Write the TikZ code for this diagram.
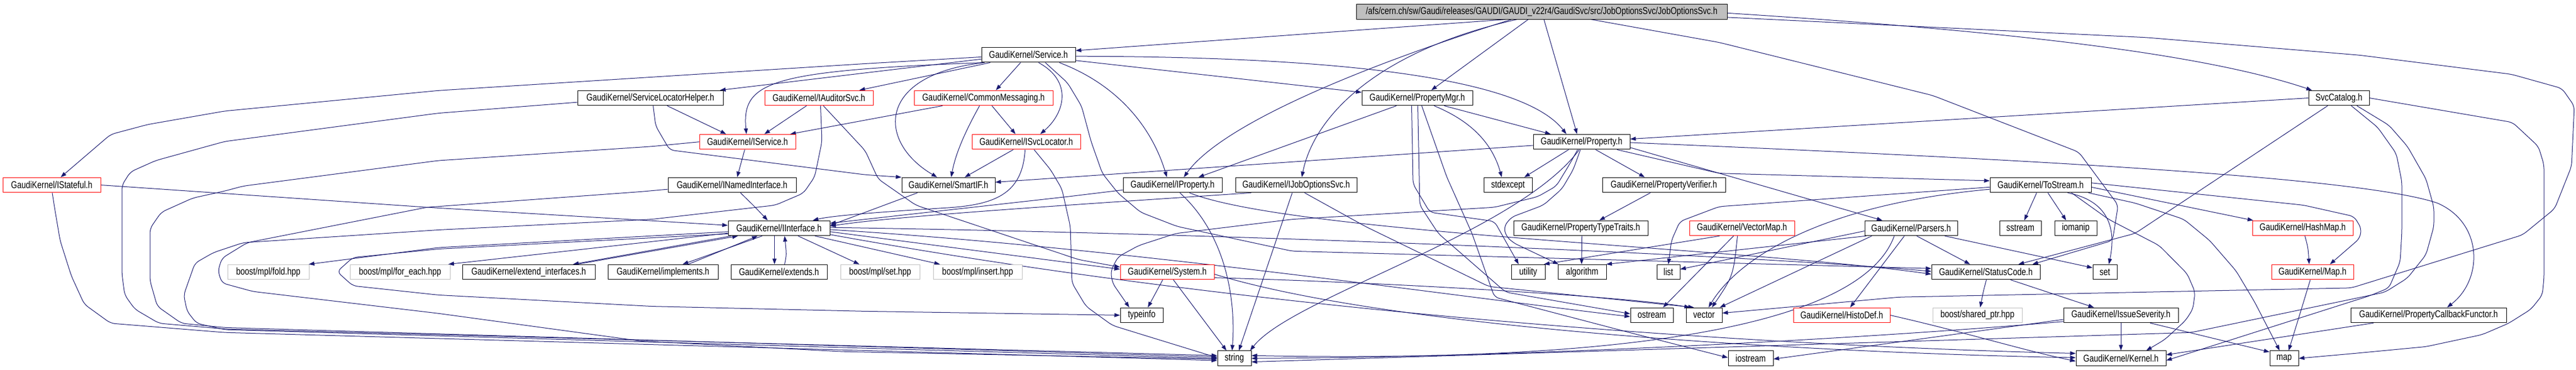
\documentclass[tikz,border=0pt]{standalone}
\usepackage{fontspec}
\setmainfont{Liberation Sans}
\usetikzlibrary{arrows.meta}
\definecolor{edgeblue}{RGB}{25,25,112}
\definecolor{boxgray}{RGB}{191,191,191}
\newcommand\nodefont{\fontsize{14pt}{16pt}\selectfont}
\pgfdeclarelayer{edgelayer}
\pgfsetlayers{edgelayer,main}
\tikzset{
 bx/.style={draw=black, line width=1pt, fill=white, inner sep=0pt, minimum height=21pt, font=\nodefont, transform shape},
 bxr/.style={bx, draw=red},
 bxg/.style={bx, draw=boxgray},
 bxroot/.style={bx, fill=boxgray},
 lnk/.style={draw=edgeblue, line width=1pt, -{Triangle[length=10pt,width=7pt]}},
 lnkc/.style={lnk, rounded corners=8pt},
}
\begin{document}
\begin{tikzpicture}[x=1pt,y=-1pt,yscale=1.26]
\useasboundingbox (0,0) rectangle (4585,523);
% row 0
\node[bxroot, minimum width=660pt] (root) at (2744,16.5) {/afs/cern.ch/sw/Gaudi/releases/GAUDI/GAUDI\_v22r4/GaudiSvc/src/JobOptionsSvc/JobOptionsSvc.h};
% row 1
\node[bx, minimum width=167pt] (Svc) at (1830.5,77.5) {GaudiKernel/Service.h};
% row 2
\node[bx, minimum width=259pt] (SLH) at (1157.5,138.5) {GaudiKernel/ServiceLocatorHelper.h};
\node[bxr, minimum width=193pt] (IAud) at (1457.5,138.5) {GaudiKernel/IAuditorSvc.h};
\node[bxr, minimum width=247pt] (CM) at (1750.5,138.5) {GaudiKernel/CommonMessaging.h};
\node[bx, minimum width=197pt] (PM) at (2522.5,138.5) {GaudiKernel/PropertyMgr.h};
\node[bx, minimum width=108pt] (SCat) at (4163,138.5) {SvcCatalog.h};
% row 3
\node[bxr, minimum width=171pt] (ISrv) at (1330.5,200.5) {GaudiKernel/IService.h};
\node[bxr, minimum width=193pt] (ISL) at (1826.5,200.5) {GaudiKernel/ISvcLocator.h};
\node[bx, minimum width=172pt] (Prop) at (2815,200.5) {GaudiKernel/Property.h};
% row 4
\node[bxr, minimum width=174pt] (IStf) at (92,261.5) {GaudiKernel/IStateful.h};
\node[bx, minimum width=228pt] (INI) at (1303,261.5) {GaudiKernel/INamedInterface.h};
\node[bx, minimum width=166pt] (SIF) at (1688,261.5) {GaudiKernel/SmartIF.h};
\node[bx, minimum width=176pt] (IP) at (2087,261.5) {GaudiKernel/IProperty.h};
\node[bx, minimum width=216pt] (IJ) at (2307,261.5) {GaudiKernel/IJobOptionsSvc.h};
\node[bx, minimum width=86pt] (stdx) at (2684,261.5) {stdexcept};
\node[bx, minimum width=219pt] (PV) at (2961.5,261.5) {GaudiKernel/PropertyVerifier.h};
\node[bx, minimum width=180pt] (TS) at (3632,261.5) {GaudiKernel/ToStream.h};
% row 5
\node[bx, minimum width=181pt] (II) at (1386.5,322.5) {GaudiKernel/IInterface.h};
\node[bx, minimum width=239pt] (PTT) at (2813.5,322.5) {GaudiKernel/PropertyTypeTraits.h};
\node[bxr, minimum width=187pt] (VM) at (3100.5,322.5) {GaudiKernel/VectorMap.h};
\node[bx, minimum width=165pt] (Pars) at (3401.5,322.5) {GaudiKernel/Parsers.h};
\node[bx, minimum width=74pt] (sstr) at (3596,322.5) {sstream};
\node[bx, minimum width=75pt] (ioman) at (3694.5,322.5) {iomanip};
\node[bxr, minimum width=179pt] (HM) at (4098.5,322.5) {GaudiKernel/HashMap.h};
% row 6
\node[bxg, minimum width=145pt] (fold) at (477.5,384.5) {boost/mpl/fold.hpp};
\node[bxg, minimum width=178pt] (fe) at (712,384.5) {boost/mpl/for\_each.hpp};
\node[bx, minimum width=236pt] (EI) at (941,384.5) {GaudiKernel/extend\_interfaces.h};
\node[bx, minimum width=196pt] (IMP) at (1180,384.5) {GaudiKernel/implements.h};
\node[bx, minimum width=171pt] (EXT) at (1386.5,384.5) {GaudiKernel/extends.h};
\node[bxg, minimum width=141pt] (mset) at (1566.5,384.5) {boost/mpl/set.hpp};
\node[bxg, minimum width=158pt] (mins) at (1740,384.5) {boost/mpl/insert.hpp};
\node[bxr, minimum width=167pt] (Sys) at (2077.5,384.5) {GaudiKernel/System.h};
\node[bx, minimum width=60pt] (util) at (2720,384.5) {utility};
\node[bx, minimum width=86pt] (algo) at (2816,384.5) {algorithm};
\node[bx, minimum width=41pt] (lst) at (2969.5,384.5) {list};
\node[bx, minimum width=193pt] (SC) at (3534.5,384.5) {GaudiKernel/StatusCode.h};
\node[bx, minimum width=43pt] (sset) at (3746.5,384.5) {set};
\node[bxr, minimum width=146pt] (Map) at (4116,384.5) {GaudiKernel/Map.h};
% row 7
\node[bx, minimum width=76pt] (tinfo) at (2032,445.5) {typeinfo};
\node[bx, minimum width=76pt] (ostr) at (2940,445.5) {ostream};
\node[bx, minimum width=64pt] (vec) at (3033,445.5) {vector};
\node[bxr, minimum width=172pt] (HD) at (3278,445.5) {GaudiKernel/HistoDef.h};
\node[bxg, minimum width=159pt] (sptr) at (3519.5,445.5) {boost/shared\_ptr.hpp};
\node[bx, minimum width=204pt] (ISev) at (3775,445.5) {GaudiKernel/IssueSeverity.h};
\node[bx, minimum width=277pt] (PCF) at (4322.5,445.5) {GaudiKernel/PropertyCallbackFunctor.h};
% row 8
\node[bx, minimum width=60pt] (str) at (2197,506.5) {string};
\node[bx, minimum width=80pt] (iostr) at (3116,506.5) {iostream};
\node[bx, minimum width=160pt] (Kern) at (3775,506.5) {GaudiKernel/Kernel.h};
\node[bx, minimum width=51pt] (cmap) at (4065.5,506.5) {map};

\begin{pgfonlayer}{edgelayer}
% root
\draw[lnk] ([xshift=-64pt]root.south) -- ([yshift=6pt]Svc.east);
\draw[lnk] ([xshift=-54pt]root.south) .. controls (2400,100) and (2170,180) .. ([xshift=20pt]IP.north);
\draw[lnk] ([xshift=-44pt]root.south) .. controls (2460,70) and (2340,160) .. ([xshift=10pt]IJ.north);
\draw[lnk] ([xshift=-24pt]root.south) -- ([xshift=25pt]PM.north);
\draw[lnk] ([xshift=4pt]root.south) -- ([xshift=-8pt]Prop.north);
\draw[lnkc] ([xshift=88pt]root.south) -- (3060,60) -- (3440,135) -- (3700,215) -- (3770,290) -- (3760,340) -- ([xshift=83pt]SC.north);
\draw[lnk] ([yshift=-2pt]root.east) .. controls (3500,40) and (3900,70) .. ([xshift=-48pt]SCat.north);
\draw[lnkc] ([yshift=-8pt]root.east) -- (3820,53) -- (4200,78) -- (4470,105) -- (4560,125) -- (4582,150) -- (4577,235) -- (4547,295) -- (4490,332) -- (4185,407) -- (3380,420) -- ([yshift=3pt]vec.east);
% Service
\draw[lnkc] ([yshift=-3pt]Svc.west) -- (1540,90) -- (780,128) -- (400,157) -- (263,176) -- (197,190) -- ([xshift=16pt]IStf.north);
\draw[lnk] ([yshift=-6pt]Svc.west) -- ([xshift=124pt]SLH.north);
\draw[lnk] ([xshift=-68pt]Svc.south) -- ([xshift=72pt]IAud.north);
\draw[lnk] ([xshift=-80pt]Svc.south) .. controls (1370,100) and (1320,115) .. ([xshift=-2pt]ISrv.north);
\draw[lnk] ([xshift=-78pt]Svc.south) .. controls (1560,105) and (1560,200) .. ([xshift=-20pt]SIF.north);
\draw[lnk] ([xshift=-14pt]Svc.south) -- ([xshift=22pt]CM.north);
\draw[lnk] ([xshift=18pt]Svc.south) .. controls (1910,115) and (1895,160) .. ([xshift=25pt]ISL.north);
\draw[lnk] ([xshift=55pt]Svc.south) .. controls (1990,120) and (2050,180) .. ([xshift=-10pt]IP.north);
\draw[lnk] ([yshift=-8pt]Svc.east) -- ([yshift=8pt]PM.west);
\draw[lnk] ([yshift=-2pt]Svc.east) .. controls (2300,80) and (2700,100) .. ([xshift=-27pt]Prop.north);
\draw[lnkc] ([xshift=30pt]Svc.south) -- (1900,117) -- (1925,150) -- (1942,200) -- (1962,245) -- (1990,273) -- (2030,300) -- (2095,320) -- (2300,355) -- ([yshift=5pt]SC.west);
% ServiceLocatorHelper
\draw[lnk] ([xshift=30pt]SLH.south) -- ([xshift=-38pt]ISrv.north);
\draw[lnkc] ([xshift=5pt]SLH.south) -- (1167,178) -- (1192,212) -- (1540,247) -- ([yshift=11pt]SIF.west);
\draw[lnkc] ([yshift=-6pt]SLH.west) -- (780,160) -- (400,200) -- (277,227) -- (232,243) -- (217,262) -- (217,387) -- (222,417) -- (240,437) -- (283,457) -- (400,465) -- ([yshift=4pt]str.west);
% IService
\draw[lnk] ([xshift=-5pt]ISrv.south) -- ([xshift=9pt]INI.north);
\draw[lnkc] (ISrv.west) -- (1160,207) -- (780,227) -- (433,263) -- (400,270) -- (343,280) -- (287,300) -- (267,323) -- (267,397) -- (280,433) -- (323,457) -- (400,463) -- ([yshift=2pt]str.west);
% IAuditorSvc
\draw[lnk] ([xshift=-22pt]IAud.south) -- ([xshift=30pt]ISrv.north);
\draw[lnkc] ([xshift=3pt]IAud.south) -- (1463,200) -- (1450,250) -- (1430,273) -- (1380,290) -- (1160,310) -- (780,325) -- (433,343) -- (380,357) -- (347,372) -- (327,417) -- (333,440) -- (350,457) -- (400,466) -- (str.west);
\draw[lnkc] ([xshift=8pt]IAud.south) -- (1540,213) -- (1563,253) -- (1630,290) -- (1920,367) -- ([yshift=7pt]Sys.west);
% CommonMessaging
\draw[lnk] ([xshift=-73pt]CM.south) -- ([xshift=76pt]ISrv.north);
\draw[lnk] ([xshift=-7pt]CM.south) .. controls (1715,190) and (1700,220) .. ([xshift=5pt]SIF.north);
\draw[lnk] ([xshift=15pt]CM.south) -- ([xshift=-19pt]ISL.north);
% ISvcLocator
\draw[lnk] ([xshift=-23pt]ISL.south) -- ([xshift=29pt]SIF.north);
\draw[lnk] ([xshift=-2pt]ISL.south) .. controls (1820,275) and (1770,290) .. (1680,294) .. controls (1560,300) and (1480,305) .. ([xshift=60pt]II.north);
\draw[lnkc] ([xshift=14pt]ISL.south) -- (1870,240) -- (1890,267) -- (1905,320) -- (1908,400) -- (1933,433) -- (1980,460) -- (2033,473) -- ([yshift=1pt]str.west);
% INamedInterface
\draw[lnkc] ([xshift=15pt]INI.south) -- (1343,292) -- ([xshift=-20pt]II.north);
\draw[lnkc] ([yshift=-6pt]INI.west) -- (1140,271) -- (760,293) -- (440,343) -- (395,365) -- (388,383) -- (395,400) -- (450,412) -- (780,443) -- (1140,482) -- (1500,497) -- ([yshift=-1pt]str.west);
% SmartIF
\draw[lnk] ([xshift=-55pt]SIF.south) -- ([yshift=4pt]II.east);
% IStateful
\draw[lnkc] (IStf.east) -- (760,293) -- ([yshift=4pt]II.west);
\draw[lnkc] ([xshift=1pt]IStf.south) -- (97,293) -- (107,340) -- (127,390) -- (150,430) -- (197,457) -- (400,470) -- ([yshift=-3pt]str.west);
% IInterface
\draw[lnkc] ([yshift=-5pt]II.west) -- (780,350) -- ([xshift=72pt]fold.north);
\draw[lnk] ([yshift=-7pt]II.west) -- ([xshift=86pt]fe.north);
\draw[lnk] ([xshift=-85pt]II.south) -- ([xshift=79pt]EI.north);
\draw[lnk] ([xshift=86pt]EI.north) -- ([xshift=-73pt]II.south);
\draw[lnk] ([xshift=-30pt]II.south) -- ([xshift=35pt]IMP.north);
\draw[lnk] ([xshift=45pt]IMP.north) -- ([xshift=-38pt]II.south);
\draw[lnk] ([xshift=-8pt]II.south) -- ([xshift=-8pt]EXT.north);
\draw[lnk] ([xshift=10pt]EXT.north) .. controls (1400,360) .. ([xshift=10pt]II.south);
\draw[lnk] ([xshift=34pt]II.south) -- ([xshift=-37pt]mset.north);
\draw[lnk] ([xshift=64pt]II.south) -- ([xshift=-67pt]mins.north);
\draw[lnk] ([yshift=-5pt]II.east) -- ([yshift=4pt]Sys.west);
\draw[lnkc] ([yshift=-8pt]II.west) -- (780,352) -- (628,364) -- (600,384) -- (628,404) -- (780,417) -- (1160,433) -- (1540,440) -- (tinfo.west);
\draw[lnk] ([yshift=-2pt]II.east) .. controls (2000,350) and (2600,420) .. ([yshift=-2pt]ostr.west);
\draw[lnk] ([yshift=1pt]II.east) .. controls (2200,330) and (3100,360) .. ([yshift=1pt]SC.west);
\draw[lnk] ([yshift=-9pt]II.east) .. controls (2300,450) and (3200,490) .. ([yshift=7pt]Kern.west);
% System
\draw[lnk] ([xshift=-8pt]Sys.south) -- ([xshift=11pt]tinfo.north);
\draw[lnk] ([xshift=11pt]Sys.south) -- ([xshift=-14pt]str.north);
\draw[lnk] ([yshift=-3pt]Sys.east) .. controls (2500,470) and (3300,500) .. ([yshift=1pt]Kern.west);
\draw[lnk] ([yshift=-8pt]Sys.east) .. controls (2500,400) and (2900,420) .. ([xshift=-25pt]vec.north);
% IProperty
\draw[lnkc] ([yshift=-7pt]IP.west) -- (1900,278) -- ([yshift=7pt]II.east);
\draw[lnk] ([xshift=13pt]IP.south) .. controls (2180,330) and (2200,420) .. ([xshift=-4pt]str.north);
\draw[lnk] ([xshift=30pt]IP.south) .. controls (2300,330) and (3100,350) .. ([yshift=-3pt]SC.west);
% IJobOptionsSvc
\draw[lnk] ([xshift=-80pt]IJ.south) .. controls (1900,290) and (1600,305) .. ([yshift=3pt]II.east);
\draw[lnk] ([xshift=-7pt]IJ.south) -- ([xshift=8pt]str.north);
\draw[lnkc] ([xshift=15pt]IJ.south) -- (2430,320) -- (2650,405) -- ([xshift=-18pt]vec.north);
% PropertyMgr
\draw[lnk] ([xshift=-37pt]PM.south) -- ([xshift=46pt]IP.north);
\draw[lnk] ([xshift=48pt]PM.south) -- ([xshift=-55pt]Prop.north);
\draw[lnk] ([xshift=30pt]PM.south) .. controls (2615,170) and (2655,200) .. ([xshift=-11pt]stdx.north);
\draw[lnkc] ([xshift=-10pt]PM.south) -- (2515,260) -- (2545,300) -- (2660,313) -- ([xshift=-17pt]util.north);
\draw[lnkc] ([xshift=1pt]PM.south) -- (2527,290) -- (2560,330) -- (2680,413) -- ([yshift=2pt]ostr.west);
\draw[lnkc] ([xshift=8pt]PM.south) -- (2575,250) -- (2620,330) -- (2660,420) -- (2900,470) -- ([yshift=1pt]iostr.west);
% Property
\draw[lnkc] ([xshift=-7pt]Prop.south) -- (2793,233) -- (2770,263) -- (2737,278) -- (2660,293) -- (2300,310) -- (2093,330) -- (2027,347) -- (1990,363) -- (1977,383) -- (1980,400) -- ([xshift=-22pt]tinfo.north);
\draw[lnk] ([xshift=-23pt]Prop.south) -- ([xshift=29pt]stdx.north);
\draw[lnk] ([xshift=25pt]Prop.south) -- ([xshift=-34pt]PV.north);
\draw[lnk] ([yshift=-5pt]Prop.west) -- ([yshift=4pt]SIF.east);
\draw[lnkc] ([xshift=63pt]Prop.south) -- (3060,245) -- ([yshift=6pt]TS.west);
\draw[lnk] ([yshift=-8pt]Prop.east) -- ([xshift=-51pt]Pars.north);
\draw[lnk] ([yshift=-1pt]Prop.east) .. controls (3600,225) and (4200,250) .. (4338,287) .. controls (4420,315) and (4420,395) .. ([xshift=33pt]PCF.north);
\draw[lnkc] ([xshift=-2pt]Prop.south) -- (2800,240) -- (2780,267) -- (2747,290) -- (2690,307) -- (2677,320) -- (2680,333) -- (2693,343) -- ([xshift=-42pt]algo.north);
\draw[lnk] ([xshift=-4pt]Prop.south) .. controls (2700,330) and (2300,420) .. ([xshift=28pt]str.north);
% PropertyVerifier, PropertyTypeTraits
\draw[lnk] ([xshift=-24pt]PV.south) -- ([xshift=33pt]PTT.north);
\draw[lnk] ([xshift=2pt]PTT.south) -- ([xshift=-1pt]algo.north);
% VectorMap
\draw[lnk] ([xshift=-40pt]VM.south) -- ([xshift=28pt]util.north);
\draw[lnk] ([xshift=-15pt]VM.south) -- ([xshift=20pt]ostr.north);
\draw[lnk] ([xshift=-8pt]VM.south) .. controls (3085,390) .. ([xshift=14pt]vec.north);
% Parsers
\draw[lnk] ([xshift=10pt]Pars.south) -- ([xshift=-28pt]SC.north);
\draw[lnk] ([xshift=60pt]Pars.south) -- ([yshift=6pt]sset.west);
\draw[lnk] ([xshift=-12pt]Pars.south) -- ([xshift=15pt]HD.north);
\draw[lnk] ([xshift=-80pt]Pars.south) -- ([xshift=43pt]algo.north);
\draw[lnk] ([xshift=-70pt]Pars.south) -- ([xshift=28pt]vec.north);
\draw[lnk] ([yshift=-4pt]Pars.west) -- ([yshift=4pt]lst.east);
\draw[lnk] ([xshift=-30pt]Pars.south) .. controls (3300,490) and (2700,510) .. ([yshift=4pt]str.east);
% ToStream
\draw[lnk] ([xshift=-7pt]TS.south) -- ([xshift=7pt]sstr.north);
\draw[lnk] ([xshift=13pt]TS.south) -- ([xshift=-17pt]ioman.north);
\draw[lnk] ([xshift=48pt]TS.south) .. controls (3760,285) and (3765,330) .. ([xshift=7pt]sset.north);
\draw[lnkc] ([xshift=85pt]TS.south) -- (3800,287) -- (3887,310) -- (3933,340) -- (3980,383) -- (4013,427) -- ([xshift=-8pt]cmap.north);
\draw[lnk] ([yshift=-3pt]TS.east) -- ([xshift=-88pt]HM.north);
\draw[lnkc] ([yshift=3pt]TS.east) -- (4100,290) -- (4190,306) -- (4203,323) -- (4200,337) -- ([xshift=31pt]Map.north);
\draw[lnkc] ([xshift=55pt]TS.south) -- (3753,310) -- (3843,347) -- (3893,387) -- (3907,413) -- (3903,437) -- (3890,453) -- (3853,480) -- ([xshift=45pt]Kern.north);
\draw[lnkc] ([yshift=-3pt]TS.west) -- (3060,292) -- (2990,313) -- (2975,340) -- (lst.north);
\draw[lnk] ([yshift=-6pt]TS.west) .. controls (3230,290) and (3090,370) .. ([xshift=8pt]vec.north);
% StatusCode
\draw[lnk] ([xshift=1pt]SC.south) .. controls (3530,412) .. ([xshift=5pt]sptr.north);
\draw[lnk] ([xshift=44pt]SC.south) -- ([xshift=-48pt]ISev.north);
% IssueSeverity
\draw[lnk] (ISev.south) -- (Kern.north);
\draw[lnk] ([xshift=52pt]ISev.south) -- ([yshift=9pt]cmap.west);
\draw[lnk] ([yshift=-6pt]ISev.west) -- ([yshift=-1pt]iostr.east);
\draw[lnk] ([yshift=-9pt]ISev.west) .. controls (3300,480) and (2700,505) .. (str.east);
% HashMap, Map
\draw[lnk] ([xshift=4pt]HM.south) .. controls (4108,350) .. ([xshift=-6pt]Map.north);
\draw[lnk] ([xshift=-4pt]Map.south) .. controls (4095,440) .. ([xshift=8pt]cmap.north);
% SvcCatalog
\draw[lnk] (SCat.west) -- ([yshift=4pt]Prop.east);
\draw[lnkc] ([xshift=-20pt]SCat.south) -- (3800,330) -- ([xshift=58pt]SC.north);
\draw[lnkc] ([xshift=22pt]SCat.south) -- (4232,180) -- (4265,217) -- (4275,257) -- (4275,327) -- (4272,370) -- (4252,407) -- (4218,418) -- ([yshift=-3pt]Kern.east);
\draw[lnkc] ([xshift=32pt]SCat.south) -- (4252,177) -- (4285,207) -- (4318,253) -- (4332,293) -- (4332,320) -- (4318,360) -- (4285,393) -- (4245,413) -- (4185,423) -- (3900,470) -- ([yshift=-5pt]str.east);
\draw[lnkc] (SCat.east) -- (4472,173) -- (4518,207) -- (4528,233) -- (4528,393) -- (4525,417) -- (4505,437) -- (4465,457) -- (4418,473) -- (4318,490) -- (4185,500) -- (cmap.east);
% PropertyCallbackFunctor, HistoDef
\draw[lnk] ([xshift=-98pt]PCF.south) -- ([yshift=5pt]Kern.east);
\draw[lnk] (HD.east) .. controls (3500,470) and (3600,495) .. ([yshift=-4pt]Kern.west);
\end{pgfonlayer}
\end{tikzpicture}
\end{document}
